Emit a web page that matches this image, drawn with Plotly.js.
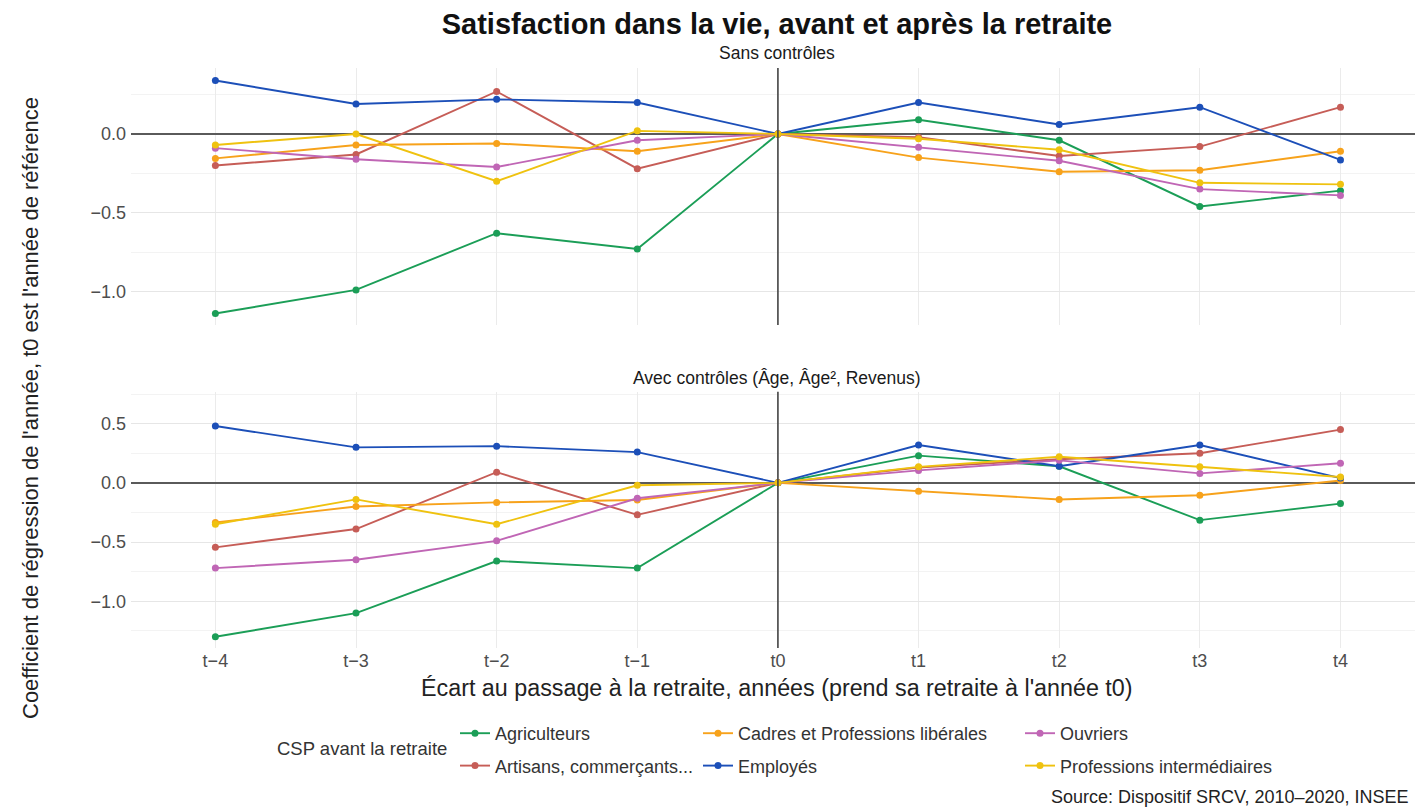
<!DOCTYPE html>
<html>
<head>
<meta charset="utf-8">
<script src="https://cdn.plot.ly/plotly-3.0.1.min.js"></script>
<style>html,body{margin:0;padding:0;background:#fff;}#chart{width:1415px;height:809px;}</style>
</head>
<body>
<div id="chart"></div>
<script>
// ---- Data ----
const periods = ["t−4","t−3","t−2","t−1","t0","t1","t2","t3","t4"];
const groups = ["Agriculteurs","Artisans, commerçants...","Cadres et Professions libérales","Employés","Ouvriers","Professions intermédiaires"];
const colors = ["#1b9e57","#c65d57","#f7a21b","#1c4fb8","#c066b5","#efc20f"];

// Sans contrôles
const agriSans     = [-1.14, -0.99, -0.63, -0.73, 0, 0.09, -0.04, -0.46, -0.36];
const artiSans     = [-0.20, -0.13, 0.27, -0.22, 0, -0.02, -0.14, -0.08, 0.17];
const cadresSans   = [-0.155, -0.07, -0.06, -0.11, 0, -0.15, -0.24, -0.23, -0.11];
const employesSans = [0.34, 0.19, 0.22, 0.20, 0, 0.20, 0.06, 0.17, -0.165];
const ouvriersSans = [-0.09, -0.16, -0.21, -0.04, 0, -0.085, -0.17, -0.35, -0.39];
const profintSans  = [-0.07, 0.0, -0.30, 0.02, 0, -0.03, -0.10, -0.31, -0.32];

// Avec contrôles (Âge, Âge², Revenus)
const agriAvec     = [-1.30, -1.10, -0.66, -0.72, 0, 0.23, 0.14, -0.315, -0.175];
const artiAvec     = [-0.545, -0.39, 0.09, -0.27, 0, 0.13, 0.20, 0.25, 0.45];
const cadresAvec   = [-0.335, -0.20, -0.165, -0.145, 0, -0.07, -0.14, -0.105, 0.02];
const employesAvec = [0.48, 0.30, 0.31, 0.26, 0, 0.32, 0.14, 0.32, 0.04];
const ouvriersAvec = [-0.72, -0.65, -0.49, -0.13, 0, 0.105, 0.19, 0.08, 0.165];
const profintAvec  = [-0.35, -0.14, -0.35, -0.02, 0, 0.135, 0.22, 0.135, 0.05];

const sansSeries = [agriSans, artiSans, cadresSans, employesSans, ouvriersSans, profintSans];
const avecSeries = [agriAvec, artiAvec, cadresAvec, employesAvec, ouvriersAvec, profintAvec];
const legendOf = ["legend","legend","legend2","legend2","legend3","legend3"];

const traces = [];
groups.forEach((g, i) => {
  traces.push({
    type: "scatter", mode: "lines+markers", name: g,
    x: periods, y: sansSeries[i], xaxis: "x", yaxis: "y",
    line: {color: colors[i], width: 1.9}, marker: {color: colors[i], size: 7},
    legend: legendOf[i], legendgroup: g, showlegend: true
  });
});
groups.forEach((g, i) => {
  traces.push({
    type: "scatter", mode: "lines+markers", name: g,
    x: periods, y: avecSeries[i], xaxis: "x2", yaxis: "y2",
    line: {color: colors[i], width: 1.9}, marker: {color: colors[i], size: 7},
    legend: legendOf[i], legendgroup: g, showlegend: false
  });
});

const W = 1415, H = 809, L = 131;
const px2x = p => (p - L) / (W - L);
const py2y = p => 1 - p / H;

const font = {family: "Liberation Sans, Arial, sans-serif"};
const tickFont = {family: font.family, size: 18, color: "#4d4d4d"};

const xAxisBase = {
  type: "category", categoryorder: "array", categoryarray: periods,
  range: [-0.6, 8.53], showgrid: true, gridcolor: "#ebebeb", gridwidth: 1,
  zeroline: false, showline: false, ticks: "", tickfont: tickFont
};
const yAxisBase = {
  dtick: 0.5, tick0: 0, tickformat: ".1f", showgrid: true, gridcolor: "#e6e6e6", gridwidth: 1,
  minor: {dtick: 0.25, tick0: 0, showgrid: true, gridcolor: "#f3f3f3", gridwidth: 1},
  zeroline: true, zerolinecolor: "#5a5a5a", zerolinewidth: 2.2,
  showline: false, ticks: "", tickfont: tickFont, ticklabelstandoff: 4
};

const legendBase = {
  orientation: "v", yanchor: "top", xanchor: "left",
  font: {family: font.family, size: 18, color: "#333"},
  bgcolor: "rgba(0,0,0,0)", tracegroupgap: 6, traceorder: "grouped", itemwidth: 30
};
const legY = py2y(715);

const layout = {
  width: W, height: H,
  margin: {l: L, r: 0, t: 0, b: 0},
  paper_bgcolor: "#fff", plot_bgcolor: "#fff",
  font: font,
  title: {text: "<b>Satisfaction dans la vie, avant et après la retraite</b>",
          x: 777 / W, xref: "container", xanchor: "center",
          y: 1 - 24 / H, yref: "container", yanchor: "middle",
          font: {family: font.family, size: 29, color: "#111"}},
  xaxis: Object.assign({}, xAxisBase, {anchor: "y", showticklabels: false}),
  yaxis: Object.assign({}, yAxisBase, {domain: [py2y(325), py2y(68)], range: [-1.213, 0.419]}),
  xaxis2: Object.assign({}, xAxisBase, {anchor: "y2", showticklabels: true}),
  yaxis2: Object.assign({}, yAxisBase, {domain: [py2y(648), py2y(391.7)], range: [-1.395, 0.77]}),
  legend: Object.assign({}, legendBase, {x: px2x(455), y: legY}),
  legend2: Object.assign({}, legendBase, {x: px2x(698), y: legY}),
  legend3: Object.assign({}, legendBase, {x: px2x(1020), y: legY}),
  shapes: [
    {type: "line", xref: "x", yref: "y domain", x0: "t0", x1: "t0", y0: 0, y1: 1,
     line: {color: "#444", width: 1.6}},
    {type: "line", xref: "x2", yref: "y2 domain", x0: "t0", x1: "t0", y0: 0, y1: 1,
     line: {color: "#444", width: 1.6}}
  ],
  annotations: [
    {text: "Sans contrôles", xref: "paper", yref: "paper", x: px2x(777), y: py2y(53),
     xanchor: "center", yanchor: "middle", showarrow: false,
     font: {family: font.family, size: 17.5, color: "#1a1a1a"}},
    {text: "Avec contrôles (Âge, Âge², Revenus)", xref: "paper", yref: "paper", x: px2x(777), y: py2y(378),
     xanchor: "center", yanchor: "middle", showarrow: false,
     font: {family: font.family, size: 17.5, color: "#1a1a1a"}},
    {text: "Écart au passage à la retraite, années (prend sa retraite à l'année t0)", xref: "paper", yref: "paper",
     x: px2x(777), y: py2y(688), xanchor: "center", yanchor: "middle", showarrow: false,
     font: {family: font.family, size: 23.3, color: "#222"}},
    {text: "Coefficient de régression de l'année, t0 est l'année de référence", xref: "paper", yref: "paper",
     x: px2x(31), y: py2y(408), xanchor: "center", yanchor: "middle", textangle: -90, showarrow: false,
     font: {family: font.family, size: 22, color: "#222"}},
    {text: "CSP avant la retraite", xref: "paper", yref: "paper",
     x: px2x(362), y: py2y(748), xanchor: "center", yanchor: "middle", showarrow: false,
     font: {family: font.family, size: 18.5, color: "#333"}},
    {text: "Source: Dispositif SRCV, 2010–2020, INSEE", xref: "paper", yref: "paper",
     x: px2x(1411), y: py2y(797), xanchor: "right", yanchor: "middle", showarrow: false,
     font: {family: font.family, size: 18, color: "#222"}}
  ]
};

Plotly.newPlot("chart", traces, layout, {displayModeBar: false, responsive: false});
</script>
</body>
</html>
